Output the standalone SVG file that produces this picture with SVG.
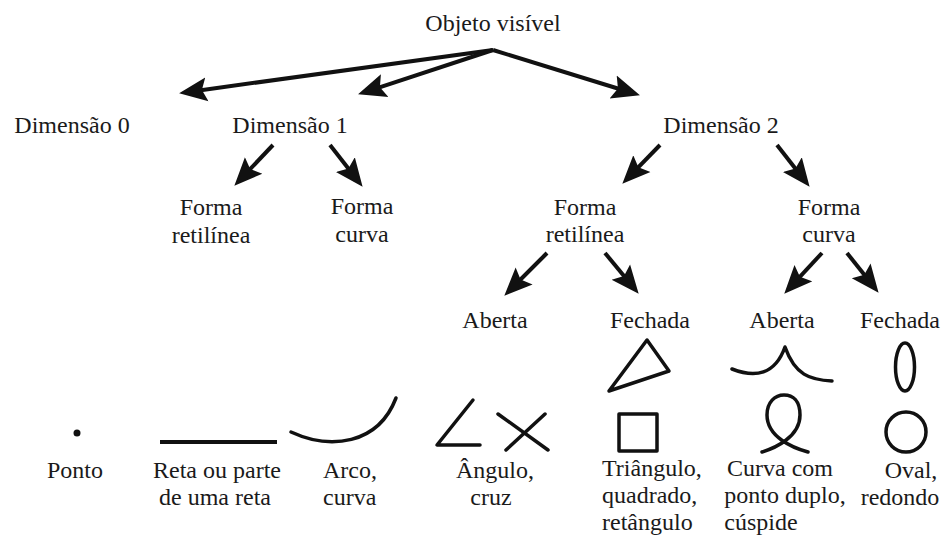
<svg xmlns="http://www.w3.org/2000/svg" width="943" height="535" viewBox="0 0 943 535">
<style>
text{font-family:"Liberation Serif","Times New Roman","DejaVu Serif",serif;font-size:24px;fill:#1a1a1a}
.m{text-anchor:middle}
.c{stroke:#111;stroke-width:4;fill:none}
.s{stroke:#111;stroke-width:3.5;fill:none;stroke-linecap:round;stroke-linejoin:round}
</style>
<defs>
<marker id="ah" markerUnits="userSpaceOnUse" markerWidth="32" markerHeight="28" refX="15" refY="13" orient="auto">
<path d="M0,1 L28,13 L0,25 L5,13 Z" fill="#111"/>
</marker>
</defs>
<rect width="943" height="535" fill="#fff"/>
<g id="connectors" class="c" marker-end="url(#ah)">
<line x1="493" y1="50" x2="192" y2="91.4"/>
<line x1="493" y1="50" x2="370.4" y2="90.3"/>
<line x1="493" y1="50" x2="627.5" y2="91.5"/>
<line x1="273" y1="145" x2="243.3" y2="176.3"/>
<line x1="330" y1="145" x2="354.6" y2="176.5"/>
<line x1="660" y1="145" x2="631.4" y2="174.4"/>
<line x1="777" y1="145" x2="801.6" y2="176.5"/>
<line x1="547" y1="253" x2="513.5" y2="286.5"/>
<line x1="605" y1="253" x2="630.4" y2="283.7"/>
<line x1="822" y1="253" x2="793.1" y2="284.2"/>
<line x1="847" y1="253" x2="870.5" y2="282.6"/>
</g>
<g id="objeto"><text class="m" x="493" y="31">Objeto visível</text></g>
<g id="dim0"><text class="m" x="72" y="133">Dimensão 0</text></g>
<g id="dim1"><text class="m" x="290" y="133">Dimensão 1</text></g>
<g id="dim2"><text class="m" x="721" y="133">Dimensão 2</text></g>
<g id="d1-ret"><text class="m" x="211" y="215">Forma</text><text class="m" x="211" y="243">retilínea</text></g>
<g id="d1-curva"><text class="m" x="362" y="214">Forma</text><text class="m" x="362" y="242">curva</text></g>
<g id="d2-ret"><text class="m" x="585" y="215">Forma</text><text class="m" x="585" y="242">retilínea</text></g>
<g id="d2-curva"><text class="m" x="829" y="215">Forma</text><text class="m" x="829" y="242">curva</text></g>
<g id="ret-aberta"><text class="m" x="495" y="328">Aberta</text></g>
<g id="ret-fechada"><text class="m" x="650" y="328">Fechada</text>
<polygon class="s" points="647,340 669,371 609,391"/></g>
<g id="curva-aberta"><text class="m" x="782" y="328">Aberta</text>
<path class="s" d="M732,369 C755,378 775,375 785,347 C795,375 810,380 832,381"/></g>
<g id="curva-fechada"><text class="m" x="900" y="328">Fechada</text>
<ellipse class="s" cx="905" cy="367" rx="9.5" ry="24"/></g>
<g id="ponto"><circle cx="77" cy="433" r="3.5" fill="#111"/>
<text class="m" x="75" y="478">Ponto</text></g>
<g id="reta"><line x1="160" y1="442" x2="277" y2="442" stroke="#111" stroke-width="4"/>
<text class="m" x="217" y="478">Reta ou parte</text><text class="m" x="215" y="505">de uma reta</text></g>
<g id="arco"><path class="s" d="M291,432 C330,450 378,445 396,398"/>
<text x="323" y="478">Arco,</text><text x="323" y="505">curva</text></g>
<g id="angulo"><polyline class="s" points="473,400 437,445 480,445"/>
<line class="s" x1="498" y1="414" x2="548" y2="450"/><line class="s" x1="545" y1="414" x2="506" y2="450"/>
<text class="m" x="495" y="478">Ângulo,</text><text class="m" x="491" y="505">cruz</text></g>
<g id="triangulo"><rect class="s" x="619" y="414" width="38" height="37" stroke-linejoin="miter"/>
<text x="602" y="475.5">Triângulo,</text><text x="602" y="502.5">quadrado,</text><text x="602" y="529.5">retângulo</text></g>
<g id="ponto-duplo"><path class="s" d="M762,452 C775,448 800,437 800,415 C800,401 793,395 784,395 C775,395 767,402 767,415 C767,437 793,448 808,452"/>
<text class="m" x="780" y="475.5">Curva com</text><text class="m" x="785" y="502.5">ponto duplo,</text><text class="m" x="761" y="529.5">cúspide</text></g>
<g id="oval"><circle class="s" cx="906" cy="432" r="20"/>
<text class="m" x="911" y="478">Oval,</text><text class="m" x="900" y="505">redondo</text></g>
</svg>
